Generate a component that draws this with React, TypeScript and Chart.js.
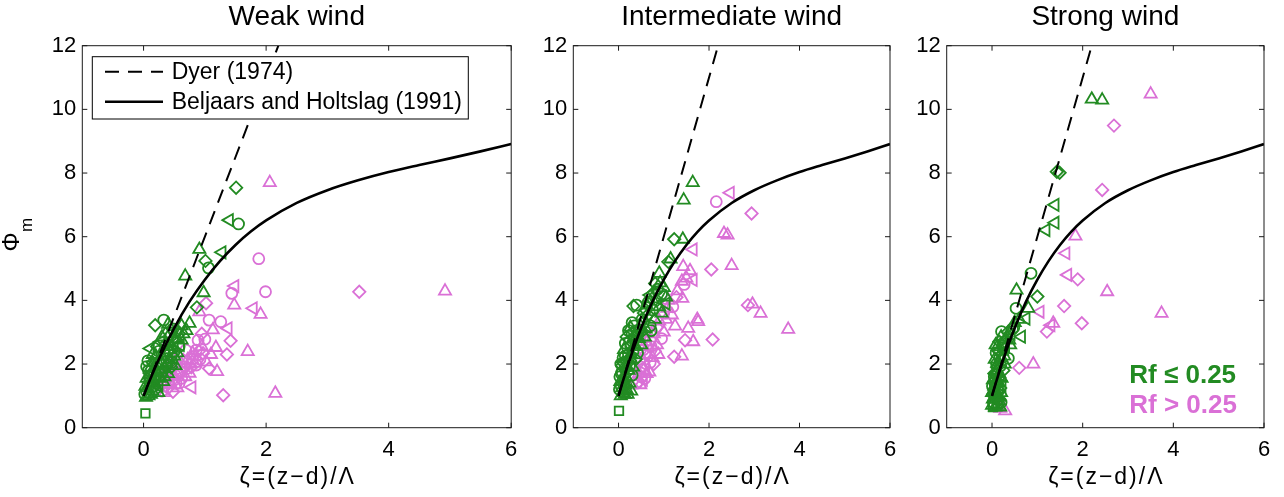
import { useEffect, useRef } from "react";
import { Chart, registerables } from "chart.js";

Chart.register(...registerables);

const FONT = "'Liberation Sans', Arial, Helvetica, sans-serif";
const GREEN = "rgb(34,139,34)";
const MAGENTA = "rgb(218,112,214)";

// Reference curves
const curveX = [0, 0.1, 0.25, 0.5, 0.75, 1, 1.25, 1.5, 1.75, 2, 2.5, 3, 3.5, 4, 4.5, 5, 5.5, 6];
const bhY = [1, 1.48, 2.15, 3.13, 3.96, 4.65, 5.24, 5.74, 6.16, 6.51, 7.06, 7.46, 7.77, 8.03, 8.25, 8.46, 8.68, 8.91];
const dyerX = [0, 2.2];
const dyerY = [1, 12];

const xTickVals = [0, 2, 4, 6];
const yTickVals = [0, 2, 4, 6, 8, 10, 12];
const xLabel = "\u03B6=(z\u2212d)/\u039B";

// markers: t = triangle, l = left triangle, d = diamond, o = circle, s = square
type Pt = [number, number, string];

const weakLow: Pt[] = [
  [1.51, 7.54, "d"], [1.40, 6.52, "l"], [1.55, 6.40, "o"], [0.91, 5.60, "t"], [1.28, 5.51, "l"],
  [1.01, 5.24, "d"], [1.06, 5.02, "o"], [0.68, 4.76, "t"], [0.98, 4.24, "t"], [0.87, 3.78, "d"],
  [0.19, 3.22, "d"], [0.33, 3.38, "o"], [0.75, 3.28, "t"], [0.11, 2.49, "l"], [0.03, 0.45, "s"],
  [0.40, 3.25, "t"], [0.62, 3.20, "t"], [0.55, 3.05, "d"], [0.45, 2.90, "o"], [0.30, 2.85, "t"],
  [0.50, 2.70, "l"], [0.65, 2.95, "t"], [0.58, 2.55, "o"], [0.42, 2.45, "t"], [0.35, 2.60, "d"],
  [0.25, 2.40, "o"], [0.20, 2.25, "t"], [0.48, 2.20, "l"], [0.55, 2.35, "t"], [0.38, 2.10, "o"],
  [0.30, 2.00, "t"], [0.15, 2.05, "d"], [0.05, 1.92, "o"], [0.08, 1.80, "o"], [0.12, 1.70, "l"],
  [0.22, 1.75, "t"], [0.28, 1.65, "o"], [0.35, 1.85, "t"], [0.45, 1.90, "d"], [0.05, 1.55, "t"],
  [0.10, 1.45, "o"], [0.18, 1.40, "t"], [0.25, 1.30, "l"], [0.32, 1.45, "t"], [0.05, 1.13, "o"],
  [0.08, 1.00, "t"], [0.14, 1.15, "t"], [0.20, 1.20, "d"], [0.03, 1.30, "t"], [0.60, 2.60, "l"],
  [0.52, 1.95, "t"], [0.16, 1.60, "o"], [0.40, 1.70, "t"], [0.28, 2.70, "l"], [0.12, 1.90, "t"],
  [0.02, 1.05, "o"], [0.06, 1.25, "t"], [0.10, 1.30, "d"], [0.14, 1.50, "t"], [0.18, 1.75, "o"],
  [0.22, 1.95, "t"], [0.26, 2.10, "d"], [0.30, 2.25, "t"], [0.34, 2.40, "o"], [0.38, 2.55, "t"],
  [0.42, 2.70, "l"], [0.46, 2.55, "t"], [0.50, 2.40, "o"], [0.54, 2.80, "t"], [0.58, 2.95, "d"],
  [0.62, 2.75, "t"], [0.26, 1.55, "t"], [0.30, 1.75, "o"], [0.34, 1.60, "t"], [0.38, 1.95, "d"],
  [0.42, 2.15, "t"], [0.46, 2.05, "o"], [0.50, 2.25, "t"], [0.20, 1.55, "l"], [0.16, 1.30, "o"],
  [0.24, 1.10, "t"], [0.10, 1.65, "t"], [0.07, 2.10, "o"], [0.15, 2.30, "t"], [0.22, 2.55, "d"],
  [0.36, 2.95, "t"], [0.48, 3.10, "o"], [0.70, 3.05, "t"], [0.12, 1.05, "t"], [0.04, 0.95, "t"],
];

const weakHigh: Pt[] = [
  [2.06, 7.70, "t"], [1.88, 5.31, "o"], [1.99, 4.27, "o"], [1.49, 4.45, "l"], [1.44, 4.22, "o"],
  [1.48, 3.85, "t"], [1.79, 3.75, "l"], [1.91, 3.56, "t"], [3.52, 4.27, "d"], [4.92, 4.29, "t"],
  [1.26, 3.33, "o"], [1.38, 3.12, "l"], [1.42, 2.73, "d"], [1.18, 2.52, "t"], [1.36, 2.30, "d"],
  [1.70, 2.39, "t"], [1.20, 1.76, "t"], [1.30, 1.02, "d"], [2.15, 1.08, "t"], [0.79, 1.27, "l"],
  [1.00, 2.78, "o"], [1.02, 3.91, "d"], [0.91, 3.64, "t"], [1.07, 3.38, "o"], [1.13, 3.07, "t"],
  [0.89, 2.75, "o"], [0.80, 2.34, "t"], [0.86, 2.44, "o"], [0.97, 2.34, "d"], [1.02, 2.07, "t"],
  [0.86, 1.97, "o"], [0.83, 2.02, "t"], [1.07, 1.86, "d"], [0.75, 1.71, "t"], [0.69, 2.44, "o"],
  [0.72, 2.13, "t"], [0.67, 1.92, "o"], [0.61, 2.02, "t"], [0.59, 1.71, "d"], [0.53, 2.13, "t"],
  [0.53, 1.39, "o"], [0.48, 1.60, "t"], [0.48, 1.13, "d"], [0.42, 1.97, "t"], [0.40, 1.45, "o"],
  [0.37, 1.76, "t"], [0.32, 1.29, "l"], [0.55, 1.25, "t"], [0.62, 1.55, "o"], [0.95, 2.95, "d"],
  [0.35, 1.10, "t"], [0.40, 1.25, "d"], [0.45, 1.35, "t"], [0.50, 1.50, "o"], [0.55, 1.65, "t"],
  [0.60, 1.80, "d"], [0.65, 2.10, "t"], [0.70, 1.85, "o"], [0.75, 2.00, "t"], [0.80, 2.15, "o"],
  [0.85, 2.25, "t"], [0.90, 2.40, "d"], [0.95, 2.55, "t"], [0.58, 1.40, "o"], [0.45, 1.80, "d"],
  [0.38, 1.55, "t"], [0.68, 1.60, "t"], [0.78, 1.90, "d"], [0.92, 2.15, "o"], [1.10, 2.30, "t"],
  [0.30, 1.15, "o"],
];

const interLow: Pt[] = [
  [1.64, 7.70, "t"], [1.44, 7.15, "t"], [1.23, 5.92, "d"], [1.42, 5.92, "t"], [1.10, 5.21, "d"],
  [1.15, 5.30, "t"], [0.90, 4.85, "t"], [0.81, 4.53, "d"], [0.70, 4.17, "l"], [0.33, 3.82, "d"],
  [0.40, 3.85, "o"], [1.00, 4.40, "t"], [1.05, 4.10, "t"], [0.95, 4.20, "o"], [0.85, 4.00, "d"],
  [0.90, 3.80, "t"], [0.75, 3.70, "o"], [0.80, 3.40, "t"], [0.65, 3.55, "d"], [0.55, 3.30, "o"],
  [0.60, 3.10, "t"], [0.50, 3.00, "d"], [0.40, 3.05, "o"], [0.45, 2.80, "t"], [0.30, 2.95, "o"],
  [0.25, 2.75, "d"], [0.35, 2.55, "t"], [0.20, 2.50, "o"], [0.28, 2.30, "t"], [0.15, 2.25, "o"],
  [0.10, 2.05, "d"], [0.05, 2.00, "o"], [0.18, 1.95, "t"], [0.08, 1.75, "o"], [0.22, 1.80, "t"],
  [0.03, 1.60, "o"], [0.12, 1.55, "t"], [0.25, 2.10, "d"], [0.15, 1.35, "t"], [0.06, 1.30, "o"],
  [0.10, 1.10, "t"], [0.20, 1.05, "t"], [0.28, 1.15, "t"], [0.01, 0.53, "s"], [0.70, 3.20, "o"],
  [0.95, 3.60, "t"], [1.05, 3.90, "l"], [0.60, 3.70, "d"], [0.35, 3.20, "o"], [0.50, 2.60, "t"],
  [0.42, 2.35, "o"], [0.32, 1.90, "t"], [0.38, 2.15, "d"], [0.72, 3.05, "o"], [0.58, 2.85, "t"],
  [0.02, 1.20, "o"], [0.04, 1.45, "t"], [0.06, 1.70, "o"], [0.08, 1.95, "d"], [0.10, 2.20, "o"],
  [0.12, 2.45, "t"], [0.15, 2.65, "o"], [0.18, 2.85, "d"], [0.22, 3.05, "o"], [0.26, 3.15, "t"],
  [0.30, 3.30, "o"], [0.08, 1.25, "t"], [0.12, 1.40, "o"], [0.16, 1.60, "t"], [0.20, 1.75, "d"],
  [0.24, 1.95, "o"], [0.28, 2.15, "t"], [0.32, 2.40, "o"], [0.36, 2.60, "t"], [0.40, 2.80, "d"],
  [0.44, 3.00, "o"], [0.48, 3.20, "t"], [0.52, 3.40, "o"], [0.56, 3.60, "d"], [0.62, 3.85, "t"],
  [0.66, 3.95, "o"], [0.74, 4.05, "t"], [0.78, 4.25, "d"], [0.86, 4.35, "o"], [0.92, 4.55, "t"],
  [0.18, 1.20, "t"], [0.24, 1.40, "t"], [0.30, 1.65, "o"], [0.05, 1.00, "t"], [0.14, 1.05, "t"],
  [0.22, 2.30, "o"], [0.18, 2.10, "d"], [0.14, 1.85, "o"], [0.27, 2.55, "o"], [0.34, 2.85, "t"],
];

const interHigh: Pt[] = [
  [2.16, 7.10, "o"], [2.47, 7.38, "l"], [2.94, 6.73, "d"], [2.33, 6.10, "t"], [2.41, 6.05, "t"],
  [1.65, 5.60, "l"], [2.50, 5.09, "t"], [2.05, 4.97, "d"], [1.43, 5.06, "t"], [1.58, 4.93, "t"],
  [1.65, 4.64, "l"], [1.40, 4.60, "t"], [1.50, 4.70, "t"], [1.45, 4.50, "o"], [1.41, 4.06, "t"],
  [2.86, 3.85, "d"], [2.96, 3.88, "t"], [3.14, 3.59, "t"], [3.75, 3.09, "t"], [2.08, 2.77, "d"],
  [1.76, 3.33, "t"], [1.74, 3.40, "t"], [1.54, 3.12, "t"], [1.25, 3.19, "t"], [1.65, 2.70, "t"],
  [1.47, 2.75, "d"], [1.23, 2.23, "d"], [1.40, 2.25, "t"], [1.18, 3.54, "t"], [1.10, 4.00, "t"],
  [1.30, 4.30, "t"], [1.28, 4.10, "d"], [1.20, 3.80, "o"], [1.05, 3.40, "t"], [1.00, 3.00, "t"],
  [0.95, 2.80, "o"], [0.85, 2.60, "t"], [0.80, 2.40, "d"], [0.75, 2.20, "t"], [0.70, 2.05, "o"],
  [0.65, 2.30, "t"], [0.60, 1.95, "l"], [0.55, 1.80, "t"], [0.50, 1.60, "o"], [0.45, 1.45, "d"],
  [0.55, 1.50, "l"], [0.62, 1.70, "t"], [0.40, 1.40, "o"], [0.88, 2.30, "t"], [0.72, 2.55, "o"],
  [0.45, 1.70, "t"], [0.50, 1.90, "o"], [0.55, 2.10, "t"], [0.60, 2.30, "d"], [0.65, 2.55, "t"],
  [0.70, 2.75, "o"], [0.78, 2.95, "t"], [0.85, 3.15, "d"], [0.90, 3.35, "t"], [1.00, 3.60, "o"],
  [1.08, 3.75, "t"], [0.48, 1.35, "t"], [0.58, 1.55, "o"], [0.68, 1.75, "t"], [0.78, 2.00, "d"],
  [0.62, 2.70, "t"], [0.55, 2.45, "o"],
];

const strongLow: Pt[] = [
  [2.20, 10.32, "t"], [2.43, 10.29, "t"], [1.43, 8.04, "d"], [1.49, 8.01, "d"], [1.39, 7.00, "l"],
  [1.39, 6.44, "l"], [1.19, 6.21, "l"], [0.86, 4.85, "o"], [0.54, 4.32, "t"], [1.00, 4.12, "d"],
  [0.53, 3.75, "o"], [0.80, 3.75, "t"], [0.75, 3.43, "l"], [0.21, 3.02, "o"], [0.65, 2.86, "l"],
  [0.36, 2.18, "o"], [0.60, 3.40, "t"], [0.45, 3.10, "o"], [0.50, 3.30, "t"], [0.35, 3.00, "d"],
  [0.30, 2.80, "t"], [0.40, 2.60, "t"], [0.25, 2.50, "o"], [0.15, 2.40, "d"], [0.20, 2.20, "t"],
  [0.28, 2.00, "t"], [0.10, 2.00, "o"], [0.12, 1.80, "t"], [0.05, 1.70, "d"], [0.18, 1.60, "t"],
  [0.08, 1.50, "o"], [0.15, 1.40, "t"], [0.05, 1.30, "t"], [0.12, 1.20, "o"], [0.20, 1.10, "t"],
  [0.08, 1.00, "d"], [0.02, 0.90, "t"], [0.15, 0.85, "t"], [0.05, 0.75, "o"], [0.10, 0.70, "t"],
  [0.02, 0.65, "s"], [0.18, 0.65, "t"], [0.25, 1.80, "d"], [0.08, 2.60, "t"], [0.22, 1.30, "l"],
  [0.00, 1.10, "t"], [0.10, 0.95, "t"],
  [0.00, 0.70, "t"], [0.03, 0.80, "o"], [0.06, 0.95, "t"], [0.09, 1.05, "d"], [0.12, 1.00, "t"],
  [0.14, 1.15, "o"], [0.04, 1.20, "t"], [0.07, 1.35, "o"], [0.10, 1.45, "t"], [0.13, 1.55, "d"],
  [0.16, 1.70, "t"], [0.02, 1.50, "t"], [0.05, 1.60, "o"], [0.08, 1.75, "t"], [0.11, 1.90, "d"],
  [0.14, 2.05, "t"], [0.17, 2.20, "o"], [0.06, 2.15, "t"], [0.09, 2.35, "o"], [0.12, 2.55, "t"],
  [0.16, 2.70, "d"], [0.20, 2.85, "t"], [0.24, 2.65, "o"], [0.22, 2.40, "t"], [0.19, 1.95, "o"],
  [0.21, 1.55, "t"], [0.18, 1.25, "d"], [0.16, 0.95, "t"], [0.20, 0.80, "o"], [0.07, 0.65, "t"],
  [0.13, 0.75, "s"], [0.04, 1.00, "d"], [0.01, 1.30, "o"], [0.27, 2.25, "t"], [0.30, 2.55, "l"],
  [0.38, 2.75, "t"], [0.42, 2.95, "l"], [0.48, 3.15, "o"],
];

const strongHigh: Pt[] = [
  [3.50, 10.48, "t"], [2.69, 9.49, "d"], [2.43, 7.47, "d"], [1.84, 6.02, "t"], [1.63, 5.48, "l"],
  [1.67, 4.80, "l"], [1.89, 4.66, "d"], [2.54, 4.27, "t"], [3.74, 3.59, "t"], [1.06, 3.64, "l"],
  [1.59, 3.82, "d"], [1.98, 3.28, "d"], [1.35, 3.28, "t"], [1.30, 3.22, "l"], [1.21, 3.02, "d"],
  [0.60, 1.88, "d"], [0.91, 2.00, "t"], [0.18, 0.61, "t"], [0.29, 0.53, "t"],
];

const PANELS = [
  { title: "Weak wind", left: 0, width: 520, axisW: 82.3, padR: 6.7, low: weakLow, high: weakHigh, legend: true, ylabel: true, rf: false },
  { title: "Intermediate wind", left: 520, width: 380, axisW: 53.3, padR: 10, low: interLow, high: interHigh, legend: false, ylabel: false, rf: false },
  { title: "Strong wind", left: 900, width: 384, axisW: 46.7, padR: 20, low: strongLow, high: strongHigh, legend: false, ylabel: false, rf: true },
];

const H = 497;

function styleOf(m: string) {
  if (m === "t") return { s: "triangle", r: 7, rot: 0 };
  if (m === "l") return { s: "triangle", r: 7, rot: -90 };
  if (m === "d") return { s: "rectRot", r: 6.2, rot: 0 };
  if (m === "s") return { s: "rect", r: 6, rot: 0 };
  return { s: "circle", r: 5.5, rot: 0 };
}

function scatterSet(pts: Pt[], color: string, order: number) {
  const st = pts.map((p) => styleOf(p[2]));
  return {
    data: pts.map((p) => ({ x: p[0], y: p[1] })),
    showLine: false,
    borderColor: color,
    backgroundColor: "rgba(0,0,0,0)",
    pointBorderColor: color,
    pointBackgroundColor: "rgba(0,0,0,0)",
    pointBorderWidth: 1.8,
    pointStyle: st.map((s) => s.s),
    pointRadius: st.map((s) => s.r),
    pointRotation: st.map((s) => s.rot),
    pointHoverRadius: st.map((s) => s.r),
    order,
  };
}

function framePlugin(p: any) {
  return {
    id: "frame",
    afterDatasetsDraw(chart: any) {
      const { ctx, chartArea: a, scales } = chart;
      const xs = scales.x;
      const ys = scales.y;
      ctx.save();
      ctx.strokeStyle = "#1a1a1a";
      ctx.lineWidth = 1;
      ctx.setLineDash([]);
      ctx.strokeRect(a.left, a.top, a.right - a.left, a.bottom - a.top);
      ctx.beginPath();
      for (const v of yTickVals) {
        const py = ys.getPixelForValue(v);
        ctx.moveTo(a.left, py);
        ctx.lineTo(a.left + 5, py);
        ctx.moveTo(a.right, py);
        ctx.lineTo(a.right - 5, py);
      }
      for (const v of xTickVals) {
        const px = xs.getPixelForValue(v);
        ctx.moveTo(px, a.bottom);
        ctx.lineTo(px, a.bottom - 5);
        ctx.moveTo(px, a.top);
        ctx.lineTo(px, a.top + 5);
      }
      ctx.stroke();

      if (p.legend) {
        const lx = a.left + 10;
        const ly = a.top + 11;
        ctx.fillStyle = "#fff";
        ctx.fillRect(lx, ly, 376, 62.3);
        ctx.strokeStyle = "#000";
        ctx.lineWidth = 1;
        ctx.strokeRect(lx, ly, 376, 62.3);
        const rows = [
          { text: "Dyer (1974)", dash: [14, 9], w: 2 },
          { text: "Beljaars and Holtslag (1991)", dash: [], w: 2.5 },
        ];
        rows.forEach((r, i) => {
          const yy = ly + 15 + i * 30;
          ctx.beginPath();
          ctx.setLineDash(r.dash);
          ctx.lineWidth = r.w;
          ctx.strokeStyle = "#000";
          ctx.moveTo(lx + 12.7, yy);
          ctx.lineTo(lx + 70.7, yy);
          ctx.stroke();
          ctx.setLineDash([]);
          ctx.fillStyle = "#000";
          ctx.font = `23px ${FONT}`;
          ctx.textBaseline = "middle";
          ctx.textAlign = "left";
          ctx.fillText(r.text, lx + 79.4, yy + 1);
        });
      }

      if (p.rf) {
        ctx.font = `bold 26px ${FONT}`;
        ctx.textAlign = "left";
        ctx.textBaseline = "alphabetic";
        ctx.fillStyle = GREEN;
        ctx.fillText("Rf \u2264 0.25", 229.3, 383.3);
        ctx.fillStyle = MAGENTA;
        ctx.fillText("Rf > 0.25", 229.3, 413.3);
      }
      ctx.restore();
    },
    afterDraw(chart: any) {
      const ctx = chart.ctx;
      const a = chart.chartArea;
      // x-axis title
      ctx.save();
      ctx.fillStyle = "#000";
      ctx.font = `23px ${FONT}`;
      ctx.textAlign = "center";
      ctx.textBaseline = "middle";
      try {
        (ctx as any).letterSpacing = "2px";
      } catch (e) {}
      ctx.fillText(xLabel, (a.left + a.right) / 2 + 1, 478);
      ctx.restore();

      if (!p.ylabel) return;
      ctx.save();
      ctx.translate(12.5, 242);
      ctx.rotate(-Math.PI / 2);
      ctx.fillStyle = "#000";
      ctx.textAlign = "center";
      ctx.textBaseline = "middle";
      ctx.font = `24px ${FONT}`;
      ctx.fillText("\u03A6", 0, 0);
      ctx.font = `17px ${FONT}`;
      ctx.fillText("m", 17, 15);
      ctx.restore();
    },
  };
}

function makeConfig(p: any): any {
  return {
    type: "scatter",
    data: {
      datasets: [
        {
          data: curveX.map((x, i) => ({ x, y: bhY[i] })),
          showLine: true,
          borderColor: "#000",
          borderWidth: 2.6,
          pointRadius: 0,
          pointHoverRadius: 0,
          cubicInterpolationMode: "monotone",
          order: 0,
        },
        {
          data: dyerX.map((x, i) => ({ x, y: dyerY[i] })),
          showLine: true,
          borderColor: "#000",
          borderWidth: 2,
          borderDash: [14, 9],
          pointRadius: 0,
          pointHoverRadius: 0,
          order: 0,
        },
        scatterSet(p.low, GREEN, 1),
        scatterSet(p.high, MAGENTA, 2),
      ],
    },
    options: {
      responsive: false,
      animation: false,
      devicePixelRatio: 1,
      events: [],
      layout: { padding: { left: 0, right: p.padR, top: 0, bottom: 0 } },
      plugins: {
        legend: { display: false },
        tooltip: { enabled: false },
        title: {
          display: true,
          text: p.title,
          fullSize: false,
          color: "#000",
          font: { family: FONT, size: 28, weight: "normal" },
          padding: { top: 0, bottom: 12.1 },
        },
      },
      scales: {
        x: {
          type: "linear",
          min: -1,
          max: 6,
          afterBuildTicks: (s: any) => {
            s.ticks = xTickVals.map((v) => ({ value: v }));
          },
          afterFit: (s: any) => {
            s.height = H - 427.7;
            s.paddingLeft = 0;
            s.paddingRight = 0;
          },
          grid: { display: false, drawTicks: false },
          border: { display: false },
          ticks: { color: "#000", font: { family: FONT, size: 22 }, padding: 9, maxRotation: 0, autoSkip: false },
          title: { display: false },
        },
        y: {
          type: "linear",
          min: 0,
          max: 12,
          afterBuildTicks: (s: any) => {
            s.ticks = yTickVals.map((v) => ({ value: v }));
          },
          afterFit: (s: any) => {
            s.width = p.axisW;
            s.paddingTop = 0;
            s.paddingBottom = 0;
          },
          grid: { display: false, drawTicks: false },
          border: { display: false },
          ticks: { color: "#000", font: { family: FONT, size: 22 }, padding: 6, autoSkip: false },
        },
      },
    },
    plugins: [framePlugin(p)],
  };
}

function Panel({ p }: { p: any }) {
  const ref = useRef<HTMLCanvasElement | null>(null);
  useEffect(() => {
    if (!ref.current) return;
    const chart = new Chart(ref.current, makeConfig(p));
    return () => chart.destroy();
  }, [p]);
  return (
    <canvas
      ref={ref}
      width={p.width}
      height={H}
      style={{ position: "absolute", left: p.left, top: 0, width: p.width, height: H }}
    />
  );
}

export default function App() {
  return (
    <div style={{ position: "absolute", left: 0, top: 0, width: 1284, height: H, background: "#fff", overflow: "hidden" }}>
      {PANELS.map((p, i) => (
        <Panel key={i} p={p} />
      ))}
    </div>
  );
}
